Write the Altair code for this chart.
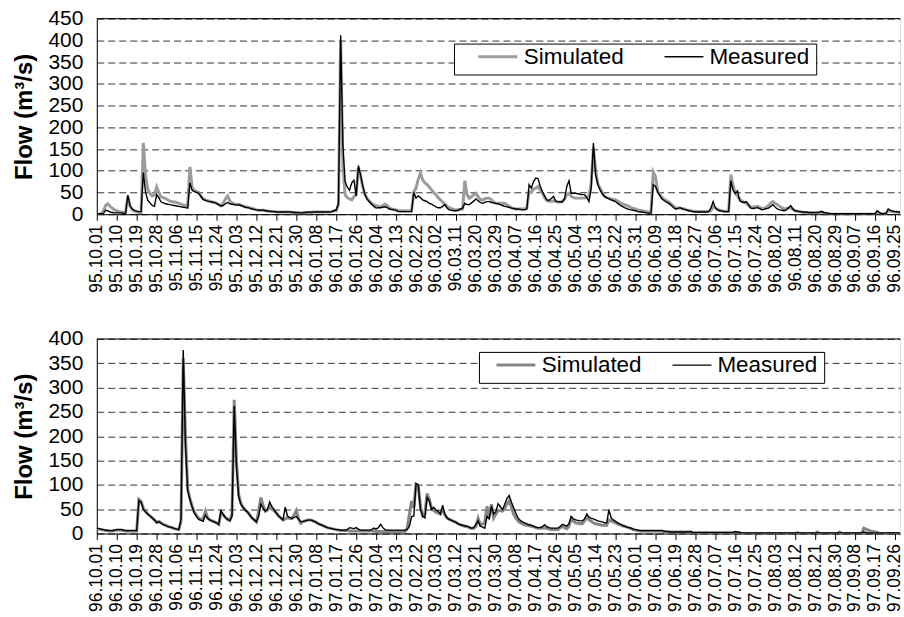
import altair as alt
import pandas as pd

# ---------------- tick labels (every 9th day) ----------------
top_ticks = ["95.10.01", "95.10.10", "95.10.19", "95.10.28", "95.11.06", "95.11.15", "95.11.24",
             "95.12.03", "95.12.12", "95.12.21", "95.12.30", "96.01.08", "96.01.17", "96.01.26",
             "96.02.04", "96.02.13", "96.02.22", "96.03.02", "96.03.11", "96.03.20", "96.03.29",
             "96.04.07", "96.04.16", "96.04.25", "96.05.04", "96.05.13", "96.05.22", "96.05.31",
             "96.06.09", "96.06.18", "96.06.27", "96.07.06", "96.07.15", "96.07.24", "96.08.02",
             "96.08.11", "96.08.20", "96.08.29", "96.09.07", "96.09.16", "96.09.25"]
bot_ticks = ["96.10.01", "96.10.10", "96.10.19", "96.10.28", "96.11.06", "96.11.15", "96.11.24",
             "96.12.03", "96.12.12", "96.12.21", "96.12.30", "97.01.08", "97.01.17", "97.01.26",
             "97.02.04", "97.02.13", "97.02.22", "97.03.03", "97.03.12", "97.03.21", "97.03.30",
             "97.04.08", "97.04.17", "97.04.26", "97.05.05", "97.05.14", "97.05.23", "97.06.01",
             "97.06.10", "97.06.19", "97.06.28", "97.07.07", "97.07.16", "97.07.25", "97.08.03",
             "97.08.12", "97.08.21", "97.08.30", "97.09.08", "97.09.17", "97.09.26"]

series_names = ["Simulated", "Measured"]

# ---------------- daily flows, 1995.10.01 - 1996.09.30 ----------------
top_measured = [
    1, 1, 1, 2, 9, 8, 5, 4, 3, 3,
    3, 3, 2, 3, 44, 20, 12, 9, 7, 6,
    6, 96, 50, 32, 26, 20, 18, 45, 38, 28,
    26, 24, 23, 22, 21, 20, 19, 18, 17, 16,
    15, 14, 72, 55, 52, 50, 48, 40, 34, 32,
    30, 29, 28, 27, 25, 22, 19, 20, 24, 27,
    24, 23, 22, 21, 22, 20, 18, 16, 15, 14,
    12, 11, 10, 9, 9, 10, 8, 8, 7, 6,
    6, 5, 5, 5, 5, 5, 5, 5, 5, 4,
    4, 4, 3, 3, 4, 5, 5, 5, 5, 5,
    5, 5, 5, 5, 5, 5, 6, 8, 10, 25,
    412, 160, 75, 62, 55, 72, 78, 42, 112, 90,
    65, 45, 34, 28, 23, 18, 14, 15, 15, 16,
    17, 15, 12, 11, 10, 9, 6, 6, 6, 6,
    6, 6, 6, 50, 37, 42, 38, 33, 31, 29,
    25, 23, 20, 17, 15, 15, 18, 22, 14, 10,
    9, 8, 8, 9, 12, 14, 25, 22, 22, 26,
    30, 35, 31, 27, 25, 27, 29, 29, 27, 26,
    25, 24, 22, 20, 18, 17, 16, 14, 13, 12,
    12, 11, 10, 10, 12, 68, 60, 75, 83, 82,
    65, 52, 42, 33, 32, 36, 41, 30, 29, 28,
    28, 35, 64, 77, 48, 48, 48, 47, 46, 45,
    45, 38, 29, 60, 164, 91, 68, 56, 47, 41,
    38, 35, 33, 31, 29, 25, 21, 18, 15, 13,
    11, 10, 9, 8, 6, 5, 5, 4, 3, 2,
    3, 68, 64, 52, 42, 35, 31, 28, 25, 21,
    16, 12, 13, 15, 13, 11, 10, 8, 7, 6,
    5, 5, 5, 5, 5, 5, 6, 14, 29, 15,
    10, 8, 7, 6, 6, 6, 77, 55, 48, 54,
    31, 28, 27, 29, 22, 14, 13, 14, 15, 13,
    10, 11, 13, 14, 18, 22, 16, 12, 10, 9,
    8, 10, 15, 20, 12, 8, 7, 6, 5, 5,
    5, 4, 4, 4, 4, 4, 5, 6, 4, 3,
    2, 1, 1, 1, 1, 1, 1, 1, 1, 1,
    1, 1, 1, 1, 1, 1, 1, 1, 1, 1,
    1, 1, 8, 4, 1, 1, 2, 12, 9, 7,
    6, 5, 5, 4, 4, 4]
top_simulated = [
    0, 0, 1, 8, 20, 24, 18, 14, 10, 8,
    6, 5, 4, 4, 40, 18, 10, 7, 5, 4,
    4, 164, 90, 57, 48, 42, 45, 63, 50, 40,
    38, 36, 33, 30, 29, 28, 27, 25, 23, 21,
    20, 19, 109, 62, 55, 52, 50, 42, 35, 33,
    31, 30, 28, 27, 25, 22, 19, 25, 35, 42,
    30, 26, 24, 22, 23, 21, 19, 17, 16, 15,
    13, 12, 10, 9, 9, 9, 8, 7, 6, 6,
    6, 5, 5, 5, 5, 5, 5, 5, 4, 4,
    3, 3, 3, 4, 4, 3, 3, 4, 5, 5,
    5, 5, 5, 5, 5, 5, 6, 8, 8, 22,
    400, 110, 45, 38, 35, 33, 40, 45, 108, 88,
    61, 45, 36, 30, 25, 21, 20, 18, 17, 20,
    23, 20, 14, 12, 11, 10, 8, 8, 8, 8,
    8, 8, 8, 52, 60, 80, 95, 79, 72, 68,
    62, 56, 50, 45, 38, 33, 28, 23, 18, 15,
    13, 11, 10, 10, 11, 12, 77, 45, 37, 40,
    45, 48, 40, 34, 33, 35, 37, 37, 33, 28,
    25, 25, 25, 25, 25, 22, 18, 15, 13, 12,
    12, 12, 12, 12, 15, 52, 50, 58, 60, 64,
    55, 48, 38, 31, 30, 30, 31, 29, 28, 28,
    30, 35, 45, 48, 41, 38, 37, 37, 37, 37,
    37, 40, 41, 70, 152, 100, 70, 60, 50, 41,
    38, 37, 35, 34, 33, 30, 27, 24, 22, 20,
    18, 15, 13, 12, 10, 9, 8, 7, 6, 5,
    5, 97, 87, 52, 45, 38, 34, 31, 28, 24,
    19, 15, 14, 14, 13, 12, 10, 9, 8, 7,
    6, 6, 6, 6, 6, 6, 6, 8, 18, 14,
    11, 9, 8, 7, 7, 7, 91, 65, 48, 41,
    35, 30, 27, 25, 20, 16, 16, 17, 18, 16,
    13, 13, 16, 20, 26, 29, 25, 22, 18, 15,
    12, 13, 14, 15, 11, 8, 7, 6, 5, 4,
    4, 3, 3, 2, 2, 2, 3, 5, 3, 2,
    1, 0, 0, 0, 0, 0, 0, 0, 0, 0,
    0, 0, 0, 0, 0, 0, 0, 0, 0, 0,
    0, 0, 4, 2, 1, 1, 2, 8, 7, 6,
    5, 5, 4, 4, 4, 4]

# ---------------- daily flows, 1996.10.01 - 1997.09.30 ----------------
bot_measured = [
    11, 10, 9, 8, 7, 6, 6, 6, 7, 8,
    8, 8, 7, 6, 6, 6, 6, 6, 6, 68,
    64, 50, 44, 40, 36, 32, 28, 22, 24, 21,
    18, 16, 14, 13, 12, 10, 9, 8, 30, 377,
    180, 88, 70, 55, 42, 35, 29, 27, 25, 38,
    31, 28, 26, 24, 22, 18, 47, 40, 33, 29,
    26, 35, 262, 136, 75, 60, 53, 48, 44, 38,
    32, 28, 24, 35, 60, 52, 46, 50, 65, 55,
    49, 42, 36, 32, 28, 54, 36, 33, 31, 33,
    35, 30, 24, 25, 26, 27, 28, 27, 25, 23,
    20, 18, 16, 14, 12, 11, 10, 9, 8, 8,
    7, 7, 7, 8, 12, 11, 10, 12, 9, 7,
    7, 7, 7, 7, 8, 11, 9, 12, 19, 12,
    8, 7, 7, 7, 7, 7, 7, 7, 7, 7,
    8, 15, 35, 36, 103, 100, 49, 36, 32, 74,
    67, 49, 54, 48, 46, 40, 58, 40, 32, 29,
    27, 25, 23, 20, 18, 17, 16, 15, 13, 11,
    12, 19, 26, 15, 13, 11, 35, 30, 56, 40,
    45, 61, 55, 49, 60, 72, 78, 65, 53, 42,
    32, 27, 24, 22, 20, 18, 17, 15, 13, 12,
    12, 14, 18, 14, 12, 11, 11, 11, 11, 14,
    19, 17, 15, 20, 35, 30, 28, 27, 26, 26,
    30, 40, 34, 31, 30, 28, 26, 25, 24, 22,
    22, 49, 32, 28, 25, 22, 19, 17, 15, 13,
    12, 11, 9, 8, 7, 6, 6, 6, 6, 6,
    6, 6, 6, 6, 6, 6, 5, 4, 4, 3,
    3, 3, 3, 3, 3, 3, 3, 3, 4, 2,
    2, 2, 2, 2, 2, 2, 2, 2, 2, 2,
    2, 2, 2, 2, 2, 2, 2, 2, 4, 3,
    2, 1, 1, 1, 1, 1, 1, 1, 1, 1,
    1, 1, 1, 1, 1, 1, 1, 1, 1, 1,
    1, 1, 1, 1, 1, 1, 1, 1, 1, 1,
    1, 1, 1, 1, 1, 1, 1, 1, 1, 1,
    1, 1, 1, 1, 1, 1, 1, 1, 1, 1,
    1, 1, 1, 1, 1, 1, 3, 2, 1, 1,
    1, 1, 1, 1, 1, 1, 1, 1, 1, 1,
    1, 1, 1, 1, 1, 1]
bot_simulated = [
    10, 9, 8, 7, 6, 6, 5, 5, 6, 7,
    7, 7, 6, 5, 5, 5, 5, 5, 5, 70,
    66, 52, 45, 40, 36, 32, 28, 23, 25, 22,
    19, 17, 15, 13, 12, 10, 9, 8, 25, 360,
    200, 92, 72, 56, 44, 37, 31, 29, 31, 46,
    32, 28, 26, 24, 22, 19, 42, 38, 33, 29,
    27, 40, 275, 150, 80, 62, 54, 48, 44, 38,
    32, 28, 24, 45, 74, 58, 46, 48, 56, 50,
    47, 42, 36, 32, 28, 30, 33, 31, 31, 38,
    47, 30, 21, 24, 26, 28, 28, 27, 25, 23,
    20, 18, 16, 14, 12, 11, 10, 9, 8, 7,
    6, 6, 6, 6, 5, 5, 5, 5, 5, 5,
    5, 5, 5, 5, 5, 5, 4, 4, 4, 4,
    4, 4, 4, 4, 4, 4, 4, 4, 4, 4,
    11, 39, 67, 53, 101, 98, 56, 36, 40, 82,
    70, 52, 47, 44, 42, 40, 49, 38, 32, 29,
    27, 25, 23, 20, 18, 16, 15, 14, 12, 11,
    11, 14, 31, 18, 20, 22, 56, 33, 60, 32,
    40, 47, 47, 46, 52, 60, 67, 55, 40, 32,
    26, 22, 20, 18, 17, 16, 15, 14, 12, 11,
    11, 11, 12, 10, 9, 8, 8, 8, 8, 12,
    15, 12, 10, 15, 31, 25, 22, 21, 20, 20,
    26, 35, 28, 25, 22, 20, 19, 18, 17, 17,
    17, 28, 26, 24, 22, 20, 18, 16, 15, 13,
    12, 10, 8, 7, 6, 5, 5, 5, 5, 5,
    5, 5, 5, 5, 5, 5, 3, 3, 3, 3,
    3, 3, 3, 3, 3, 3, 3, 3, 3, 1,
    1, 1, 1, 1, 1, 1, 1, 1, 1, 1,
    1, 1, 1, 1, 1, 1, 1, 1, 2, 1,
    1, 0, 0, 0, 0, 0, 0, 0, 0, 0,
    0, 0, 0, 0, 0, 0, 0, 0, 0, 0,
    0, 0, 0, 0, 0, 0, 2, 0, 0, 0,
    0, 0, 0, 0, 0, 3, 0, 0, 0, 0,
    0, 0, 0, 0, 0, 3, 0, 0, 0, 0,
    0, 0, 0, 0, 0, 0, 11, 9, 7, 5,
    4, 3, 2, 0, 0, 0, 0, 0, 0, 0,
    0, 0, 0, 0, 0, 0]

for s in (top_measured, top_simulated, bot_measured, bot_simulated):
    assert len(s) == 366, len(s)

FONT = "Liberation Sans"
PLOT_W = 805


def panel(sim, meas, ticks, ymax, sim_color, leg_x, leg_y, height, sym_offset, col_pad):
    rows = [{"day": i, "series": "Simulated", "flow": v} for i, v in enumerate(sim)]
    rows += [{"day": i, "series": "Measured", "flow": v} for i, v in enumerate(meas)]
    df = pd.DataFrame(rows)
    label_expr = "[" + ",".join("'%s'" % t for t in ticks) + "][round(datum.value / 9)]"

    x = alt.X("day:Q",
              scale=alt.Scale(domain=[0, 362.3], nice=False, zero=False),
              axis=alt.Axis(values=list(range(0, 361, 9)), labelExpr=label_expr,
                            labelAngle=270, labelFontSize=17.5, labelFont=FONT,
                            labelColor="black", labelPadding=4, labelOverlap=False,
                            labelFlush=False, tickSize=6, tickColor="black",
                            domainColor="black", domainWidth=1, grid=False, title=None))
    y_scale = alt.Scale(domain=[0, ymax], nice=False)
    y_axis = alt.Axis(values=list(range(0, ymax + 1, 50)), title="Flow (m³/s)",
                      titleFont=FONT, titleFontSize=24, titleFontWeight="bold",
                      titleColor="black", titlePadding=11,
                      labelFont=FONT, labelFontSize=21, labelColor="black",
                      labelPadding=14, labelOverlap=False, labelFlush=False,
                      ticks=False, domainColor="black",
                      grid=True, gridDash=[7, 4], gridColor="#333333", gridWidth=1)
    legend = alt.Legend(title=None, orient="none", legendX=leg_x, legendY=leg_y,
                        direction="horizontal", symbolType="stroke", symbolSize=1521,
                        clipHeight=14,
                        labelFont=FONT, labelFontSize=22.5, labelColor="black",
                        strokeColor="black", fillColor="white", padding=6,
                        symbolOffset=sym_offset, labelOffset=5, columnPadding=col_pad)
    lines = alt.Chart(df).mark_line(clip=True).encode(
        x=x,
        y=alt.Y("flow:Q", scale=y_scale, axis=y_axis),
        color=alt.Color("series:N", scale=alt.Scale(domain=series_names,
                                                    range=[sim_color, "black"]),
                        legend=legend),
        strokeWidth=alt.StrokeWidth("series:N",
                                    scale=alt.Scale(domain=series_names, range=[3, 1.4]),
                                    legend=legend),
    )
    top_line = alt.Chart(pd.DataFrame({"flow": [ymax]})).mark_rule(
        color="black", strokeWidth=1).encode(y=alt.Y("flow:Q", scale=y_scale, axis=y_axis))
    return alt.layer(lines, top_line).properties(width=PLOT_W, height=height)


top = panel(top_simulated, top_measured, top_ticks, 450, "#9c9c9c", 358, 25, 196, 17, 22)
bottom = panel(bot_simulated, bot_measured, bot_ticks, 400, "#868686", 383, 13, 195, 10, 19)

chart = alt.vconcat(top, bottom, spacing=34).resolve_scale(
    color="independent", strokeWidth="independent"
).resolve_legend(
    color="independent", strokeWidth="independent"
).properties(
    padding={"left": 12, "top": 6, "right": 0, "bottom": 0}
).configure_view(stroke=None).configure(font=FONT)

chart.save("out.html", embed_options={"renderer": "svg", "actions": False})
